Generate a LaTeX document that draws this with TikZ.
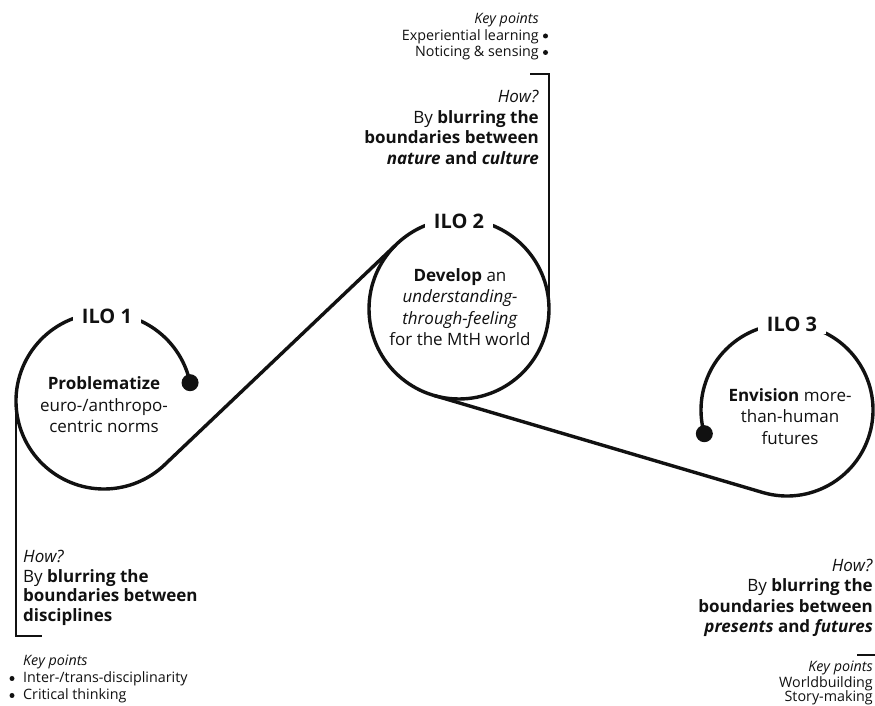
\documentclass[tikz,border=0pt]{standalone}
\usepackage{fontspec}
\setmainfont{Open Sans}
\usetikzlibrary{calc}
\definecolor{ink}{HTML}{111111}
\newcommand\mainsz{\fontsize{17}{20.5}\selectfont}
\newcommand\smallsz{\fontsize{14.3}{17}\selectfont}
\newcommand\ilosz{\fontsize{20}{24}\selectfont\bfseries}
\newcommand\bigbul{{\fontsize{20}{17}\selectfont •}}
\begin{document}
\begin{tikzpicture}[x=1pt,y=1pt,
  rope/.style={line width=3.4pt, draw=ink, line cap=round},
  bracket/.style={line width=1.1pt, draw=ink},
  ilo/.style={font=\ilosz, fill=white, inner xsep=9pt, inner ysep=3pt, text=ink},
  txt/.style={font=\mainsz, inner sep=0pt, text=ink},
  sm/.style={font=\smallsz, inner sep=0pt, text=ink},
  bul/.style={fill=ink, circle, inner sep=0pt, minimum size=5pt},
  dotfill/.style={fill=ink}
]
\useasboundingbox[fill=white] (0,0) rectangle (875,706);
% circle centres
\coordinate (c1) at (104,305);
\coordinate (c2) at (459,397);
\coordinate (c3) at (787,296);
% tangent points and dots
\coordinate (d1) at ($(c1)+(12:88)$);
\coordinate (t2) at ($(c2)+(135:90)$);
\coordinate (t3) at ($(c2)+(-106:90)$);
\coordinate (t4) at ($(c3)+(-106:86)$);
\coordinate (d3) at ($(c3)+(196:86)$);
% ropes
\draw[rope] (d1) arc[start angle=12, end angle=315, radius=88] -- (t2);
\draw[rope] (c2) circle[radius=90];
\draw[rope] (t3) -- (t4) arc[start angle=-106, end angle=196, radius=86];
\fill[dotfill] (d1) circle[radius=8.5];
\fill[dotfill] (d3) circle[radius=8.5];
% brackets
\coordinate (b1a) at (16,305);
\coordinate (b1b) at (16,70);
\coordinate (b1c) at (42,70);
\draw[bracket] (b1a) -- (b1b) -- (b1c);
\coordinate (b2a) at (549,397);
\coordinate (b2b) at (549,632);
\coordinate (b2c) at (530,632);
\draw[bracket] (b2a) -- (b2b) -- (b2c);
\coordinate (b3a) at (857,51);
\coordinate (b3b) at (876,51);
\draw[bracket] (b3a) -- (b3b);
% ILO labels
\node[ilo] (l1) at (107,706-316) {ILO 1};
\node[ilo] (l2) at (459,706-221) {ILO 2};
\node[ilo] (l3) at (792,706-324) {ILO 3};
% circle texts
\node[txt, anchor=base] (p1) at (104,706-390) {\textbf{Problematize}};
\node[txt, anchor=base] (p2) at (104,706-411.5) {euro-/anthropo-};
\node[txt, anchor=base] (p3) at (104,706-433) {centric norms};
\node[txt, anchor=base] (q1) at (460,706-282) {\textbf{Develop} an};
\node[txt, anchor=base] (q2) at (460,706-303) {\textit{understanding-}};
\node[txt, anchor=base] (q3) at (460,706-324.5) {\textit{through-feeling}};
\node[txt, anchor=base] (q4) at (460,706-346) {for the MtH world};
\node[txt, anchor=base] (r1) at (790,706-402) {\textbf{Envision} more-};
\node[txt, anchor=base] (r2) at (790,706-423) {than-human};
\node[txt, anchor=base] (r3) at (790,706-445) {futures};
% top block
\node[sm, anchor=base east] (k2a) at (539,706-24) {\textit{Key points}};
\node[sm, anchor=base east] (k2b) at (539,706-40.5) {Experiential learning};
\node[bul] (k2bb) at (545.5,706-36) {};
\node[sm, anchor=base east] (k2c) at (539,706-57) {Noticing \& sensing};
\node[bul] (k2cb) at (545.5,706-52.5) {};
\node[txt, anchor=base east] (h2a) at (539,706-103) {\textit{How?}};
\node[txt, anchor=base east] (h2b) at (539,706-123.5) {By \textbf{blurring the}};
\node[txt, anchor=base east] (h2c) at (539,706-144) {\textbf{boundaries between}};
\node[txt, anchor=base east] (h2d) at (539,706-164.5) {\textbf{\textit{nature} and \textit{culture}}};
% bottom-left block
\node[txt, anchor=base west] (h1a) at (23,706-563) {\textit{How?}};
\node[txt, anchor=base west] (h1b) at (23,706-582.5) {By \textbf{blurring the}};
\node[txt, anchor=base west] (h1c) at (23,706-602) {\textbf{boundaries between}};
\node[txt, anchor=base west] (h1d) at (23,706-621.5) {\textbf{disciplines}};
\node[sm, anchor=base west] (k1a) at (23,706-666) {\textit{Key points}};
\node[bul] (k1bb) at (12,706-678.5) {};
\node[sm, anchor=base west] (k1b) at (23,706-683) {Inter-/trans-disciplinarity};
\node[bul] (k1cb) at (12,706-695.5) {};
\node[sm, anchor=base west] (k1c) at (23,706-700) {Critical thinking};
% bottom-right block
\node[txt, anchor=base east] (h3a) at (873,706-571.5) {\textit{How?}};
\node[txt, anchor=base east] (h3b) at (873,706-592) {By \textbf{blurring the}};
\node[txt, anchor=base east] (h3c) at (873,706-612.5) {\textbf{boundaries between}};
\node[txt, anchor=base east] (h3d) at (873,706-633) {\textbf{\textit{presents} and \textit{futures}}};
\node[sm, anchor=base east] (k3a) at (873,706-672) {\textit{Key points}};
\node[sm, anchor=base east] (k3b) at (873,706-688) {Worldbuilding};
\node[sm, anchor=base east] (k3c) at (873,706-702) {Story-making};
\end{tikzpicture}
\end{document}
